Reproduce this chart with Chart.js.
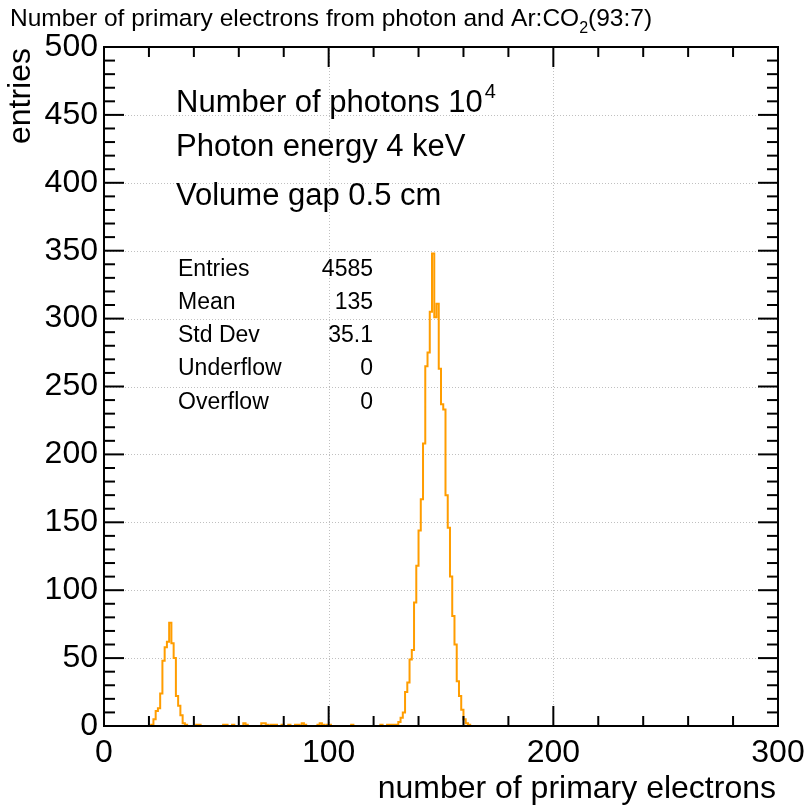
<!DOCTYPE html>
<html>
<head>
<meta charset="utf-8">
<script src="https://cdn.jsdelivr.net/npm/chart.js@4.4.1/dist/chart.umd.min.js"></script>
<style>
  html, body { margin: 0; padding: 0; background: #fff; }
  #wrap { width: 805px; height: 809px; position: relative; }
</style>
</head>
<body>
<div id="wrap"><canvas id="hist" width="805" height="809"></canvas></div>
<script>
// histogram: 300 bins of width 1 over [0, 300)
const nBins = 300;
const xMin = 0, xMax = 300;
const yMin = 0, yMax = 500;

// low-energy escape peak
const smallPeakStart = 18;
const smallPeakCounts = [0, 0, 0, 0, 1, 5, 11, 13, 24, 48, 58, 62, 76, 61, 50, 22, 15, 8, 2, 1];

// isolated entries between the peaks
const noiseBins   = [42, 43, 54, 55, 58, 63, 64, 71, 72, 73, 75, 76, 77, 80, 83, 86, 87, 89, 90, 96, 97, 98, 100, 101, 111, 124, 127, 128];
const noiseCounts = [ 1,  1,  1,  1,  1,  2,  1,  2,  2,  1,  1,  1,  1,  1,  1,  1,  1,  2,  1,  1,  2,  1,   1,   1,   1,   1,   1,   1];

// full-energy peak
const mainPeakStart = 129;
const mainPeakCounts = [1, 1, 1, 3, 6, 10, 25, 32, 49, 56, 91, 118, 144, 167, 208, 265, 275, 305, 348, 301,
                        311, 263, 237, 233, 170, 146, 110, 81, 60, 33, 22, 12, 5, 2, 1];

// axis ticks
const xMajorTicks = [0, 100, 200, 300];
const xMinorTicks = [20, 40, 60, 80, 120, 140, 160, 180, 220, 240, 260, 280];
const xGridLines = [100, 200];
const yGridLines = [50, 100, 150, 200, 250, 300, 350, 400, 450];

// stats box
const statNames  = ['Entries', 'Mean', 'Std Dev', 'Underflow', 'Overflow'];
const statValues = ['4585', '135', '35.1', '0', '0'];

const counts = new Array(nBins).fill(0);
smallPeakCounts.forEach((c, i) => { counts[smallPeakStart + i] = c; });
noiseBins.forEach((b, i) => { counts[b] = noiseCounts[i]; });
mainPeakCounts.forEach((c, i) => { counts[mainPeakStart + i] = c; });

const points = counts.map((c, i) => ({ x: xMin + i, y: c }));
points.push({ x: xMax, y: counts[nBins - 1] });

const FONT = '"Liberation Sans", Arial, Helvetica, sans-serif';

// frame, inward ticks, dotted grid and all the text
const rootStyle = {
  id: 'rootStyle',
  beforeDatasetsDraw(chart) {
    const { ctx, chartArea: a, scales: { x, y } } = chart;
    ctx.save();
    ctx.strokeStyle = '#c0c0c0';
    ctx.lineWidth = 1;
    ctx.setLineDash([1, 2]);
    xGridLines.forEach(v => {
      const px = Math.round(x.getPixelForValue(v)) + 0.5;
      ctx.beginPath(); ctx.moveTo(px, a.top); ctx.lineTo(px, a.bottom); ctx.stroke();
    });
    yGridLines.forEach(v => {
      const py = Math.round(y.getPixelForValue(v)) + 0.5;
      ctx.beginPath(); ctx.moveTo(a.left, py); ctx.lineTo(a.right, py); ctx.stroke();
    });
    ctx.restore();
  },
  afterDatasetsDraw(chart) {
    const { ctx, chartArea: a, scales: { x, y } } = chart;
    ctx.save();
    ctx.strokeStyle = '#000';
    ctx.lineWidth = 2;
    ctx.beginPath();
    ctx.rect(a.left, a.top, a.right - a.left, a.bottom - a.top);
    ctx.stroke();

    const tick = (x1, y1, x2, y2) => { ctx.beginPath(); ctx.moveTo(x1, y1); ctx.lineTo(x2, y2); ctx.stroke(); };
    xMajorTicks.forEach(v => {
      const px = x.getPixelForValue(v);
      tick(px, a.bottom, px, a.bottom - 20);
      tick(px, a.top, px, a.top + 20);
    });
    xMinorTicks.forEach(v => {
      const px = x.getPixelForValue(v);
      tick(px, a.bottom, px, a.bottom - 10);
      tick(px, a.top, px, a.top + 10);
    });
    for (let v = yMin; v <= yMax; v += 10) {
      const py = y.getPixelForValue(v);
      const len = v % 50 === 0 ? 20 : 11;
      tick(a.left, py, a.left + len, py);
      tick(a.right, py, a.right - len, py);
    }
    ctx.restore();
  },
  afterDraw(chart) {
    const { ctx, chartArea: a } = chart;
    ctx.save();
    ctx.fillStyle = '#000';
    ctx.textBaseline = 'alphabetic';

    // title with subscript
    ctx.font = '24.5px ' + FONT;
    let tx = 10;
    const t1 = 'Number of primary electrons from photon and Ar:CO';
    ctx.fillText(t1, tx, 26);
    tx += ctx.measureText(t1).width;
    ctx.font = '16px ' + FONT;
    ctx.fillText('2', tx, 33);
    tx += ctx.measureText('2').width;
    ctx.font = '24.5px ' + FONT;
    ctx.fillText('(93:7)', tx, 26);

    // axis titles
    ctx.font = '32px ' + FONT;
    ctx.textAlign = 'right';
    ctx.fillText('number of primary electrons', a.right - 2, 798);
    ctx.save();
    ctx.translate(30, a.top + 1);
    ctx.rotate(-Math.PI / 2);
    ctx.fillText('entries', 0, 0);
    ctx.restore();

    // annotation
    ctx.textAlign = 'left';
    ctx.font = '31px ' + FONT;
    const l1 = 'Number of photons 10';
    ctx.fillText(l1, 176, 112);
    const w1 = ctx.measureText(l1).width;
    ctx.font = '20px ' + FONT;
    ctx.fillText('4', 176 + w1 + 2, 98);
    ctx.font = '31px ' + FONT;
    ctx.fillText('Photon energy 4 keV', 176, 156);
    ctx.fillText('Volume gap 0.5 cm', 176, 205);

    // stats
    ctx.font = '23px ' + FONT;
    ctx.textBaseline = 'middle';
    const rowY = [270, 303, 336, 369, 403];
    statNames.forEach((n, i) => {
      ctx.textAlign = 'left';
      ctx.fillText(n, 178, rowY[i]);
      ctx.textAlign = 'right';
      ctx.fillText(statValues[i], 373, rowY[i]);
    });
    ctx.restore();
  }
};

new Chart(document.getElementById('hist'), {
  type: 'line',
  data: {
    datasets: [{
      data: points,
      stepped: 'after',
      borderColor: '#ff9d00',
      borderWidth: 2,
      pointRadius: 0,
      fill: false
    }]
  },
  options: {
    responsive: false,
    animation: false,
    layout: { padding: { left: 0, top: 47, right: 27, bottom: 0 } },
    plugins: { legend: { display: false }, tooltip: { enabled: false } },
    scales: {
      x: {
        type: 'linear', min: xMin, max: xMax,
        grid: { display: false, drawTicks: false },
        border: { display: false },
        ticks: { stepSize: 100, maxRotation: 0, padding: 8, color: '#000', font: { family: FONT, size: 32 } },
        afterFit(scale) { scale.height = 83; scale.paddingLeft = 0; scale.paddingRight = 0; }
      },
      y: {
        type: 'linear', min: yMin, max: yMax,
        grid: { display: false, drawTicks: false },
        border: { display: false },
        ticks: { stepSize: 50, padding: 6, color: '#000', font: { family: FONT, size: 32 } },
        afterFit(scale) { scale.width = 104; scale.paddingTop = 0; scale.paddingBottom = 0; }
      }
    }
  },
  plugins: [rootStyle]
});
</script>
</body>
</html>
